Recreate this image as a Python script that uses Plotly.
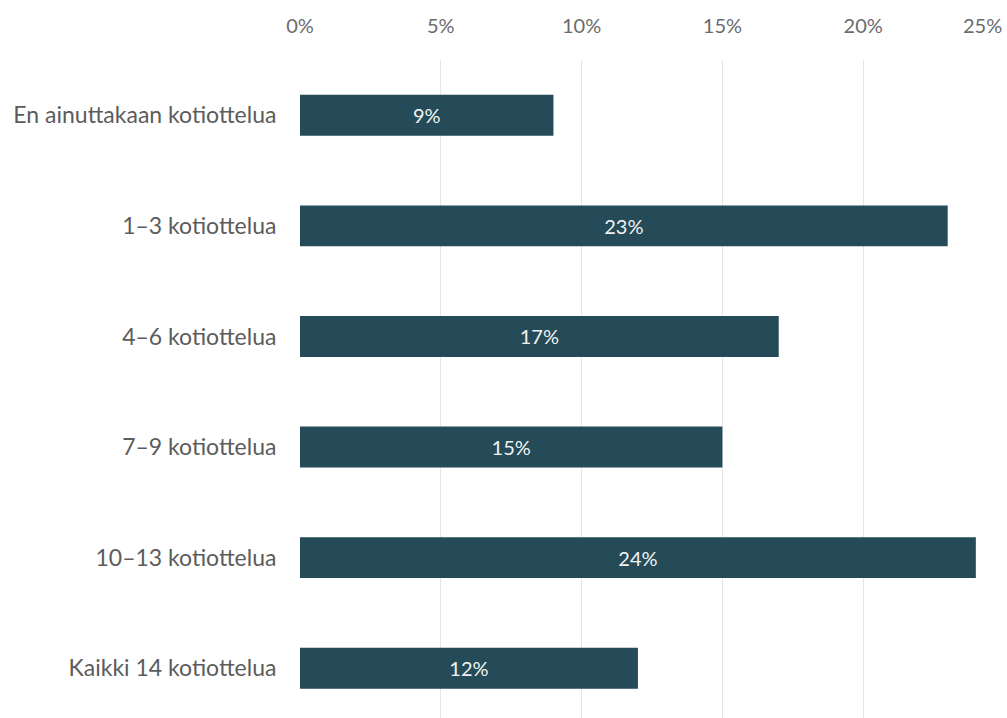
import plotly.graph_objects as go

# Share of respondents by number of home games attended
categories = [
    "En ainuttakaan kotiottelua",
    "1–3 kotiottelua",
    "4–6 kotiottelua",
    "7–9 kotiottelua",
    "10–13 kotiottelua",
    "Kaikki 14 kotiottelua",
]
shares = [9, 23, 17, 15, 24, 12]
tick_values = [0, 5, 10, 15, 20, 25]
tick_labels = ["0%", "5%", "10%", "15%", "20%", ""]
last_tick_label = "25%"

BAR_COLOR = "#244b57"
GRID_COLOR = "#e6e6e6"
FONT = "Lato"

fig = go.Figure(
    go.Bar(
        y=categories,
        x=shares,
        orientation="h",
        marker=dict(color=BAR_COLOR, line=dict(width=0)),
        width=0.37,
        text=[f"{v}%" for v in shares],
        textposition="inside",
        insidetextanchor="middle",
        textangle=0,
        constraintext="none",
        textfont=dict(family=FONT, size=20, color="#f2f2f2"),
        hoverinfo="skip",
    )
)

fig.update_layout(
    width=1007,
    height=718,
    margin=dict(l=300, r=3, t=60, b=0),
    paper_bgcolor="white",
    plot_bgcolor="white",
    showlegend=False,
    font=dict(family=FONT),
    xaxis=dict(
        side="top",
        range=[0, 25],
        tickvals=tick_values,
        ticktext=tick_labels,
        showgrid=True,
        gridcolor=GRID_COLOR,
        gridwidth=1,
        zeroline=False,
        showline=False,
        ticks="outside",
        ticklen=18,
        tickcolor="rgba(0,0,0,0)",
        tickfont=dict(family=FONT, size=20, color="#6b6b6b"),
        fixedrange=True,
    ),
    yaxis=dict(
        type="category",
        categoryorder="array",
        categoryarray=categories,
        range=[5.45, -0.5],
        showgrid=False,
        zeroline=False,
        showline=False,
        ticks="outside",
        ticklen=18,
        tickcolor="rgba(0,0,0,0)",
        tickfont=dict(family=FONT, size=23, color="#5c5c5c"),
        fixedrange=True,
    ),
)

# The last axis label sits flush against the right edge of the chart
fig.add_annotation(
    x=25,
    xref="x",
    y=1,
    yref="paper",
    yshift=35,
    text=last_tick_label,
    showarrow=False,
    xanchor="right",
    yanchor="middle",
    font=dict(family=FONT, size=20, color="#6b6b6b"),
)

fig.write_html("out.html")
